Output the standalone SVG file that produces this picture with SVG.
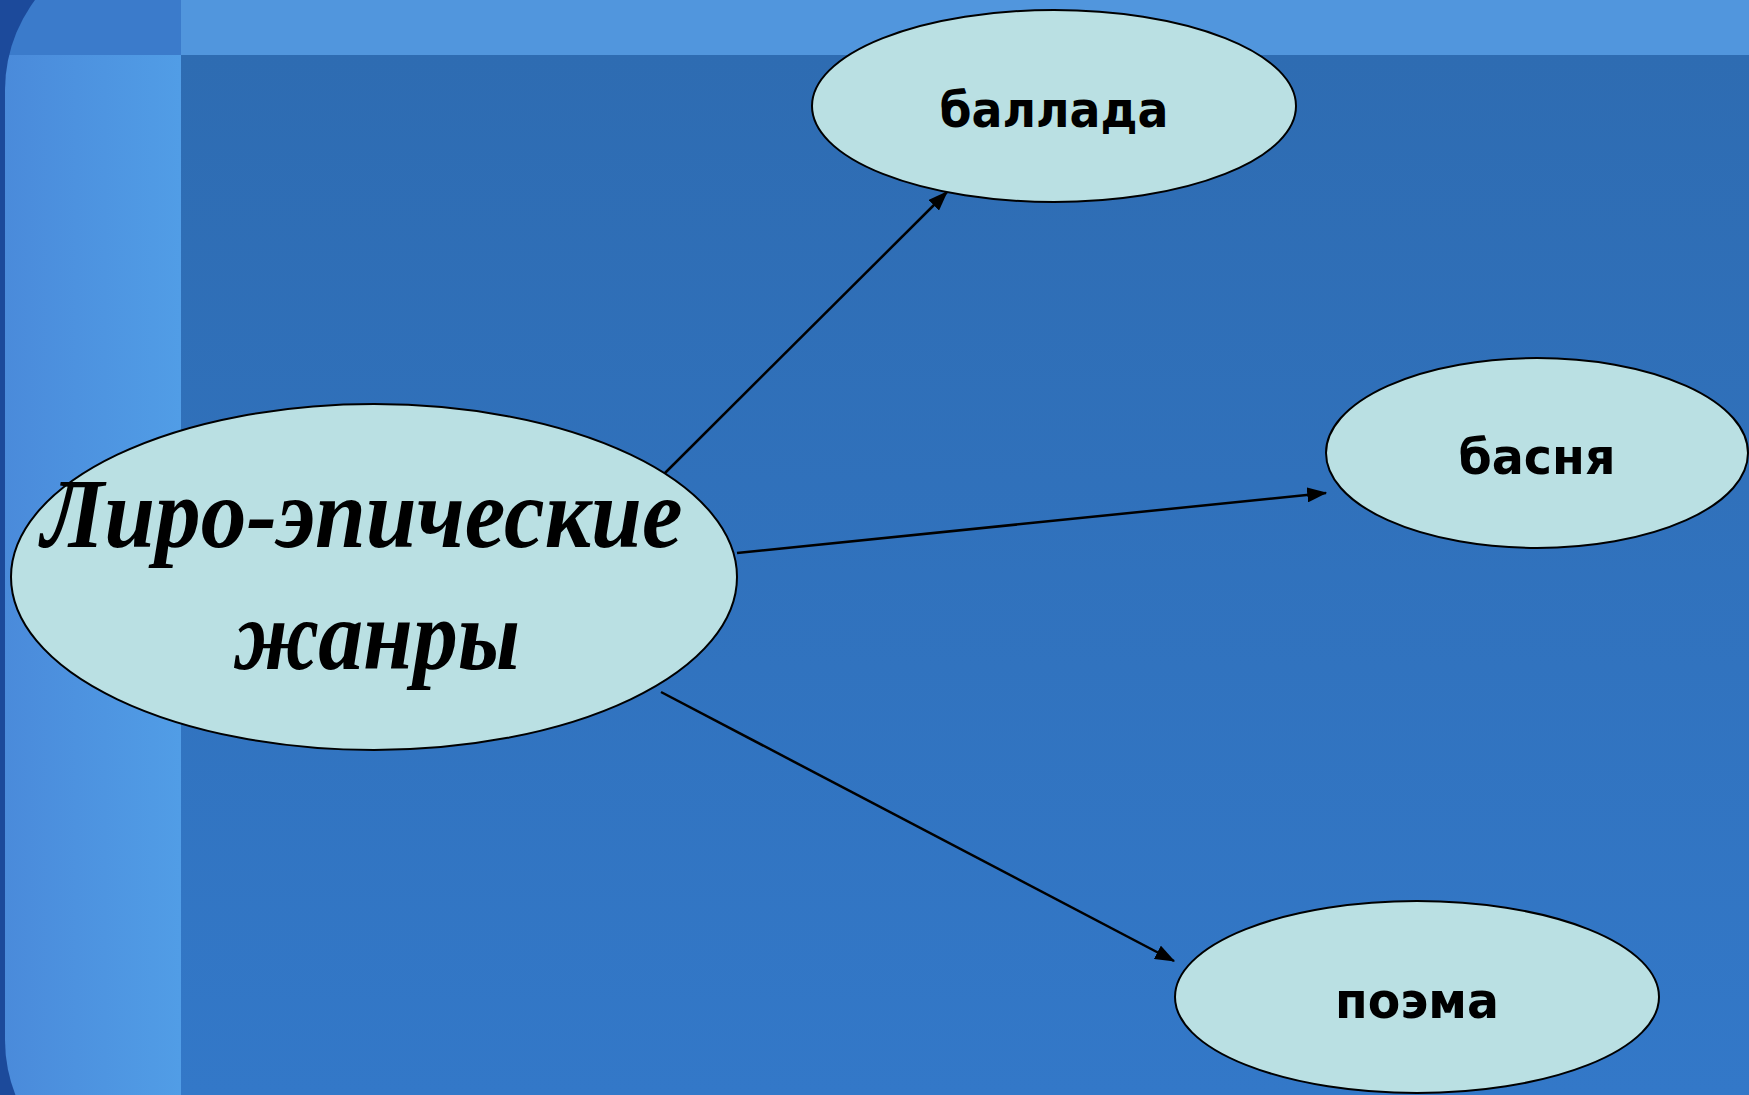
<svg xmlns="http://www.w3.org/2000/svg" width="1749" height="1095" viewBox="0 0 1749 1095">
<defs>
<style>
.node{fill:#BAE0E3;stroke:#000;stroke-width:2}
.lbl{font-family:"DejaVu Sans",Verdana,sans-serif;font-weight:bold;font-size:50px;fill:#000;text-anchor:middle}
.main{font-family:"Liberation Serif","DejaVu Serif",serif;font-style:italic;font-weight:bold;font-size:100px;fill:#000;text-anchor:middle}
.conn{stroke:#000;stroke-width:2.5;fill:none;marker-end:url(#ah)}
</style>
<marker id="ah" markerWidth="8" markerHeight="6" refX="7.5" refY="3" orient="auto" markerUnits="strokeWidth">
<path d="M0,0 L8,3 L0,6 Z" fill="#000"/>
</marker>
<linearGradient id="mainG" x1="0" y1="0" x2="0" y2="1">
<stop offset="0" stop-color="#2E6CB2"/>
<stop offset="1" stop-color="#3378C8"/>
</linearGradient>
<linearGradient id="leftG" x1="0" y1="0" x2="1" y2="0">
<stop offset="0" stop-color="#4A8ADA"/>
<stop offset="1" stop-color="#519DE6"/>
</linearGradient>
<clipPath id="bgClip">
<rect x="5" y="-60" width="2000" height="1250" rx="150" ry="150"/>
</clipPath>
</defs>
<g id="background">
<rect x="0" y="0" width="1749" height="1095" fill="#1C4A9B"/>
<g clip-path="url(#bgClip)">
<rect x="0" y="0" width="181" height="55" fill="#3B7BCB"/>
<rect x="181" y="0" width="1568" height="55" fill="#5196DD"/>
<rect x="0" y="55" width="181" height="1040" fill="url(#leftG)"/>
<rect x="181" y="55" width="1568" height="1040" fill="url(#mainG)"/>
</g>
</g>
<g id="connectors">
<line class="conn" x1="661" y1="477" x2="947" y2="192"/>
<line class="conn" x1="737" y1="553" x2="1326" y2="493"/>
<line class="conn" x1="661" y1="692" x2="1174" y2="961"/>
</g>
<g id="node-main">
<ellipse class="node" cx="374" cy="577" rx="363" ry="173"/>
<text class="main" x="362" y="547" textLength="641" lengthAdjust="spacingAndGlyphs">Лиро-эпические</text>
<text class="main" x="377" y="669" textLength="286" lengthAdjust="spacingAndGlyphs">жанры</text>
</g>
<g id="node-ballada">
<ellipse class="node" cx="1054" cy="106" rx="242" ry="96"/>
<text class="lbl" x="1054" y="127" textLength="229" lengthAdjust="spacingAndGlyphs">баллада</text>
</g>
<g id="node-basnya">
<ellipse class="node" cx="1537" cy="453" rx="211" ry="95"/>
<text class="lbl" x="1537" y="474" textLength="157" lengthAdjust="spacingAndGlyphs">басня</text>
</g>
<g id="node-poema">
<ellipse class="node" cx="1417" cy="997" rx="242" ry="96"/>
<text class="lbl" x="1417" y="1018" textLength="164" lengthAdjust="spacingAndGlyphs">поэма</text>
</g>
</svg>
